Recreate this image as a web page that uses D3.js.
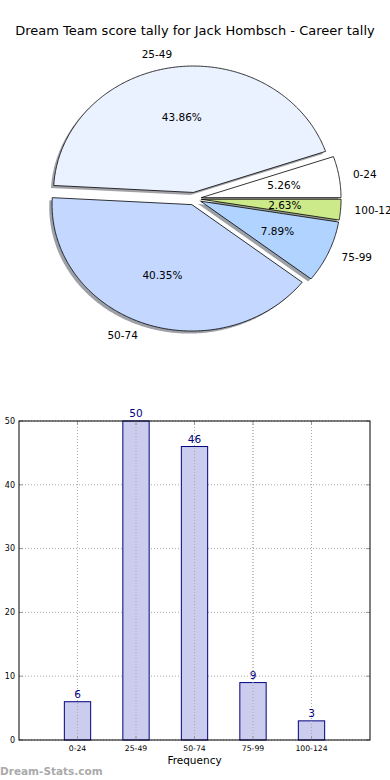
<!DOCTYPE html>
<html><head><meta charset="utf-8">
<script src="https://cdn.jsdelivr.net/npm/d3@7"></script>
<style>
html,body{margin:0;padding:0;background:#fff;}
svg{display:block;font-family:"DejaVu Sans",sans-serif;}
</style></head>
<body>
<svg id="chart" width="390" height="780"></svg>
<script>
const title = "Dream Team score tally for Jack Hombsch - Career tally";
const categories = ["0-24", "25-49", "50-74", "75-99", "100-124"];
const counts = [6, 50, 46, 9, 3];
const pieColors = ["#ffffff", "#eaf1ff", "#c4d8ff", "#b0d4ff", "#cdea8a"];
const yTicks = [0, 10, 20, 30, 40, 50];
const xLabel = "Frequency";
const watermark = "Dream-Stats.com";

const svg = d3.select("#chart");

// Title
svg.append("text").attr("x", 195).attr("y", 35).attr("text-anchor", "middle")
  .attr("font-size", 13).attr("fill", "#000").text(title);

// ---------- PIE (matplotlib-style, elliptical, exploded, shadow) ----------
const cx = 194.3, cy = 198.7, rx = 139.8, ry = 126.4;
const px = d3.scaleLinear().domain([-1, 1]).range([cx - rx, cx + rx]);
const py = d3.scaleLinear().domain([-1, 1]).range([cy + ry, cy - ry]);
const explode = 0.05;
const total = d3.sum(counts);
const arcs = d3.pie().sort(null).startAngle(0).endAngle(2 * Math.PI)(counts);
const line = d3.line().x(d => px(d[0])).y(d => py(d[1]));

function wedgePts(a, ox, oy) {
  const pts = [[ox, oy]];
  const n = Math.max(8, Math.ceil((a.endAngle - a.startAngle) / 0.01));
  for (let i = 0; i <= n; i++) {
    const t = a.startAngle + (a.endAngle - a.startAngle) * i / n;
    pts.push([ox + Math.cos(t), oy + Math.sin(t)]);
  }
  pts.push([ox, oy]);
  return pts;
}

const defs = svg.append("defs");
defs.append("filter").attr("id", "blur").append("feGaussianBlur").attr("stdDeviation", 0.6);

const gPie = svg.append("g");
arcs.forEach((a, i) => {
  const tm = (a.startAngle + a.endAngle) / 2;
  const ox = explode * Math.cos(tm), oy = explode * Math.sin(tm);
  const c = d3.rgb(pieColors[i]);
  const sc = d3.rgb(c.r * 0.3, c.g * 0.3, c.b * 0.3);
  gPie.append("path").attr("d", line(wedgePts(a, ox - 0.02, oy - 0.02)) + "Z")
    .attr("fill", sc.toString()).attr("fill-opacity", 0.5).attr("filter", "url(#blur)");
});
arcs.forEach((a, i) => {
  const tm = (a.startAngle + a.endAngle) / 2;
  const ox = explode * Math.cos(tm), oy = explode * Math.sin(tm);
  gPie.append("path").attr("d", line(wedgePts(a, ox, oy)) + "Z")
    .attr("fill", pieColors[i]).attr("stroke", "#000").attr("stroke-width", 0.8)
    .attr("stroke-linejoin", "miter");
});
arcs.forEach((a, i) => {
  const tm = (a.startAngle + a.endAngle) / 2;
  const ox = explode * Math.cos(tm), oy = explode * Math.sin(tm);
  const lx = ox + 1.1 * Math.cos(tm), ly = oy + 1.1 * Math.sin(tm);
  gPie.append("text").attr("x", px(lx)).attr("y", py(ly)).attr("dy", "0.35em")
    .attr("text-anchor", lx > 0 ? "start" : "end").attr("font-size", 10.5)
    .text(categories[i]);
  const tx = ox + 0.6 * Math.cos(tm), ty = oy + 0.6 * Math.sin(tm);
  gPie.append("text").attr("x", px(tx)).attr("y", py(ty)).attr("dy", "0.35em")
    .attr("text-anchor", "middle").attr("font-size", 10.5)
    .text((counts[i] / total * 100).toFixed(2) + "%");
});

// ---------- BAR CHART ----------
const L = 19, R = 370, T = 421, B = 740;
const x = d3.scaleLinear().domain([-1, 5]).range([L, R]);
const y = d3.scaleLinear().domain([0, 50]).range([B, T]);
const barW = 0.45;
const gBar = svg.append("g");

// grid
yTicks.forEach(t => {
  gBar.append("line").attr("x1", L).attr("x2", R).attr("y1", y(t)).attr("y2", y(t))
    .attr("stroke", "#aaa").attr("stroke-width", 1).attr("stroke-dasharray", "1,2");
});
categories.forEach((c, i) => {
  gBar.append("line").attr("x1", x(i)).attr("x2", x(i)).attr("y1", T).attr("y2", B)
    .attr("stroke", "#aaa").attr("stroke-width", 1).attr("stroke-dasharray", "1,2");
});

// bars
categories.forEach((c, i) => {
  gBar.append("rect").attr("x", x(i - barW / 2)).attr("y", y(counts[i]))
    .attr("width", x(barW) - x(0)).attr("height", y(0) - y(counts[i]))
    .attr("fill", "#ccccee").attr("stroke", "#000080").attr("stroke-width", 1);
});
// grid over bars (matplotlib draws grid above patches here)
categories.forEach((c, i) => {
  gBar.append("line").attr("x1", x(i)).attr("x2", x(i)).attr("y1", T).attr("y2", B)
    .attr("stroke", "#aaa").attr("stroke-width", 1).attr("stroke-dasharray", "1,2");
});

// ticks (inward, gray)
yTicks.forEach(t => {
  gBar.append("line").attr("x1", L).attr("x2", L + 4).attr("y1", y(t)).attr("y2", y(t)).attr("stroke", "#999");
  gBar.append("line").attr("x1", R - 4).attr("x2", R).attr("y1", y(t)).attr("y2", y(t)).attr("stroke", "#999");
});
categories.forEach((c, i) => {
  gBar.append("line").attr("x1", x(i)).attr("x2", x(i)).attr("y1", B).attr("y2", B - 4).attr("stroke", "#999");
  gBar.append("line").attr("x1", x(i)).attr("x2", x(i)).attr("y1", T).attr("y2", T + 4).attr("stroke", "#999");
});

// axes frame
gBar.append("rect").attr("x", L).attr("y", T).attr("width", R - L).attr("height", B - T)
  .attr("fill", "none").attr("stroke", "#000").attr("stroke-width", 1);

// tick labels
yTicks.forEach(t => {
  gBar.append("text").attr("x", L - 4).attr("y", y(t)).attr("dy", "0.35em")
    .attr("text-anchor", "end").attr("font-size", 8).text(t);
});
categories.forEach((c, i) => {
  gBar.append("text").attr("x", x(i)).attr("y", B + 11)
    .attr("text-anchor", "middle").attr("font-size", 7.7).text(c);
});
// value labels
categories.forEach((c, i) => {
  gBar.append("text").attr("x", x(i)).attr("y", y(counts[i]) - 4)
    .attr("text-anchor", "middle").attr("font-size", 10.5).attr("fill", "#000080").text(counts[i]);
});
svg.append("text").attr("x", x(2)).attr("y", 764).attr("text-anchor", "middle")
  .attr("font-size", 10.5).text(xLabel);
svg.append("text").attr("x", 0).attr("y", 775).attr("font-size", 10.5)
  .attr("font-weight", "bold").attr("fill", "#aaa").text(watermark);
</script>
</body></html>
